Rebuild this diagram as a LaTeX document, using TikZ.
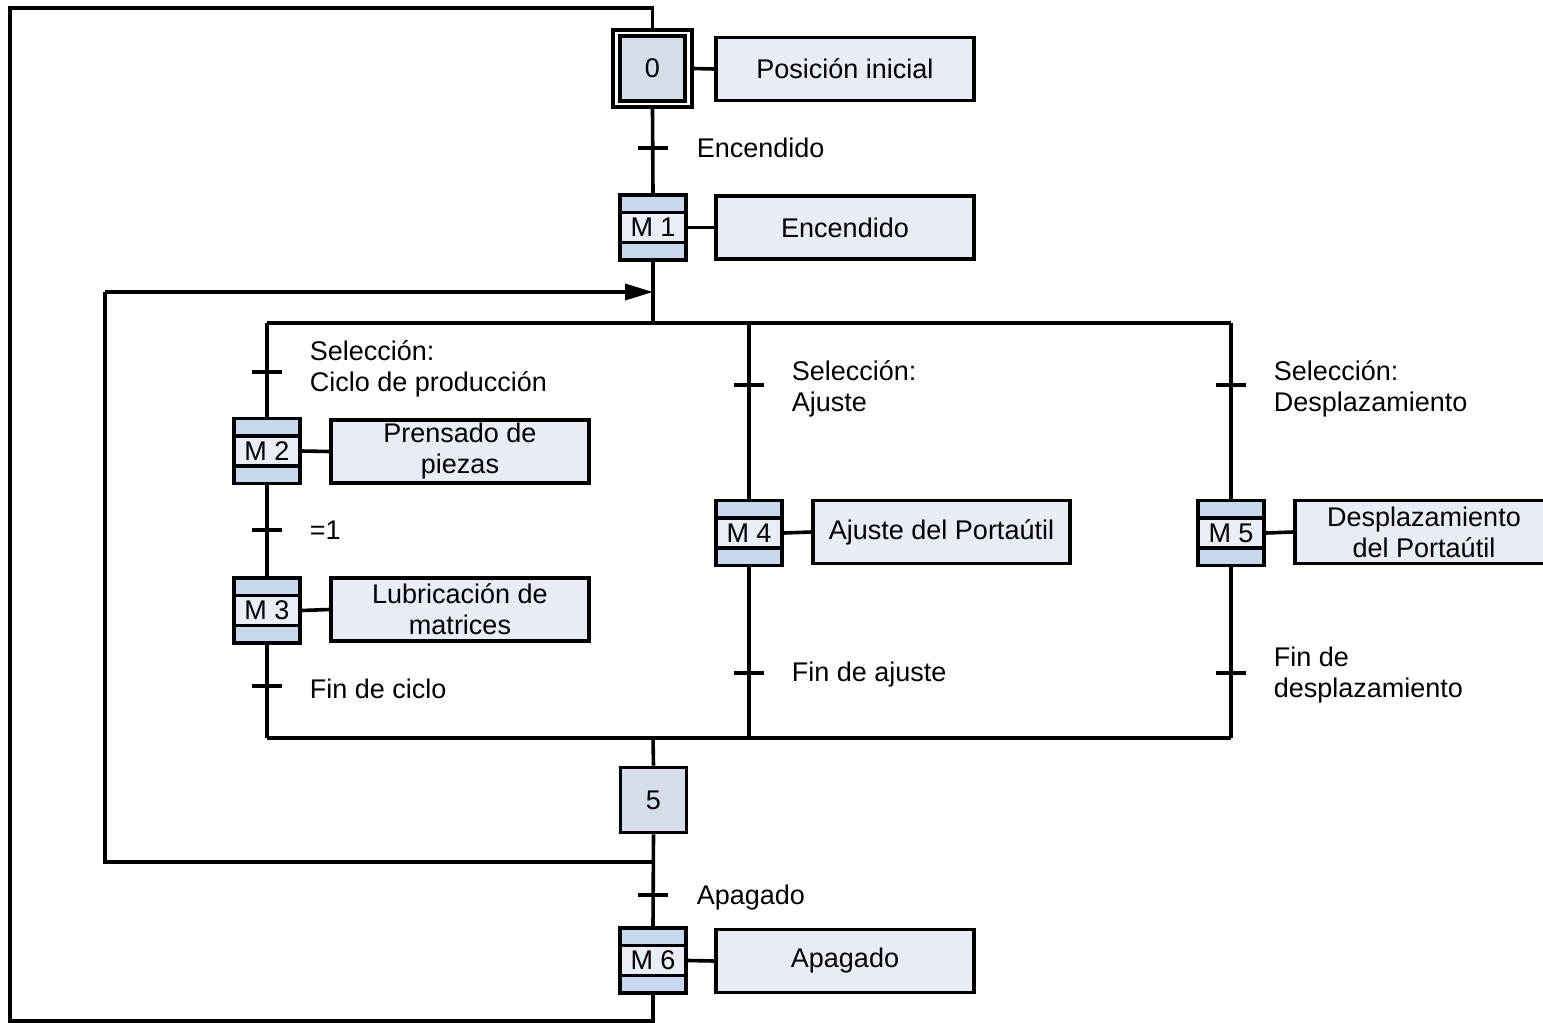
\documentclass[tikz,border=0pt]{standalone}
\usepackage{fontspec}
\setmainfont{Liberation Sans}
\usetikzlibrary{arrows.meta}
\definecolor{stepfill}{HTML}{D4DDE9}
\definecolor{bandfill}{HTML}{C6D7EE}
\definecolor{midfill}{HTML}{E9EEF6}
\definecolor{actfill}{HTML}{E8EDF5}
\begin{document}
\begin{tikzpicture}[x=0.5pt,y=-0.5pt,
  line width=1.8pt,
  every node/.style={font=\fontsize{13.5}{15.5}\selectfont, inner sep=0pt},
  stepbox/.style={draw, fill=stepfill, minimum width=32.5pt, minimum height=32.5pt},
  outerbox/.style={draw, minimum width=39.5pt, minimum height=38.5pt},
  macrobox/.style={draw, fill=bandfill, minimum width=33pt, minimum height=32.5pt,
    path picture={
      \fill[midfill] ([yshift=-7.5pt]path picture bounding box.west) rectangle ([yshift=7.5pt]path picture bounding box.east);
      \draw[line width=1.8pt] ([yshift=-7.5pt]path picture bounding box.west) -- ([yshift=-7.5pt]path picture bounding box.east);
      \draw[line width=1.8pt] ([yshift=7.5pt]path picture bounding box.west) -- ([yshift=7.5pt]path picture bounding box.east);
    }},
  actbox/.style={draw, fill=actfill, minimum width=129pt, minimum height=31.5pt, align=center},
  lbl/.style={anchor=west, align=left},
  tick/.style={line width=1.8pt}
]
\useasboundingbox (0,0) rectangle (1543,1023);

% initial step and actions
\node[outerbox] (s0o) at (652.5,68.5) {};
\node[stepbox] (s0) at (652.5,68.5) {0};
\node[actbox] (a0) at (845,69) {Posición inicial};
\draw (s0o.east) -- (a0.west);

% step M1
\node[macrobox] (m1) at (653,227.5) {M 1};
\node[actbox] (a1) at (845,227.5) {Encendido};
\draw (m1.east) -- (a1.west);

% left branch
\node[macrobox] (m2) at (267,451) {M 2};
\node[actbox] (a2) at (460,451.5) {Prensado de\\piezas};
\draw (m2.east) -- (a2.west);
\node[macrobox] (m3) at (267,610.5) {M 3};
\node[actbox] (a3) at (460,609.5) {Lubricación de\\matrices};
\draw (m3.east) -- (a3.west);

% middle branch
\node[macrobox] (m4) at (749,533) {M 4};
\node[actbox, minimum width=128.5pt] (a4) at (941.5,532) {Ajuste del Portaútil};
\draw (m4.east) -- (a4.west);

% right branch
\node[macrobox] (m5) at (1231,533) {M 5};
\node[actbox] (a5) at (1424,532) {Desplazamiento\\del Portaútil};
\draw (m5.east) -- (a5.west);

% step 5 and M6
\node[stepbox, minimum width=33pt] (s5) at (653.5,800) {5};
\node[macrobox] (m6) at (653,960.5) {M 6};
\node[actbox] (a6) at (845,961) {Apagado};
\draw (m6.east) -- (a6.west);

% coordinates of the flow
\coordinate (t1) at (653,148);
\coordinate (jin) at (653,292);
\coordinate (div) at (653,323);
\coordinate (dl) at (267,323);
\coordinate (dm) at (749,323);
\coordinate (dr) at (1231,323);
\coordinate (cl) at (267,738);
\coordinate (cm) at (749,738);
\coordinate (cr) at (1231,738);
\coordinate (conv) at (653,738);
\coordinate (jout) at (653,862);
\coordinate (lin) at (105,292);
\coordinate (tl1) at (267,372);
\coordinate (tl2) at (267,530);
\coordinate (tl3) at (267,686);
\coordinate (tm1) at (749,385);
\coordinate (tm2) at (749,673);
\coordinate (tr1) at (1231,385);
\coordinate (tr2) at (1231,673);
\coordinate (t6) at (653,895);
\coordinate (lbot) at (10,1021);
\coordinate (ltop) at (10,8);

% main trunk
\draw (s0o.south) -- (m1.north);
\draw (m1.south) -- (div);
\draw (dl) -- (dr);
\draw (dl) -- (m2.north);
\draw (m2.south) -- (m3.north);
\draw (m3.south) -- (cl);
\draw (dm) -- (m4.north);
\draw (m4.south) -- (cm);
\draw (dr) -- (m5.north);
\draw (m5.south) -- (cr);
\draw (cl) -- (cr);
\draw (conv) -- (s5.north);
\draw (s5.south) -- (m6.north);

% loops
\draw (jout) -| (lin);
\draw[-{Triangle[length=14pt,width=8pt]}] (lin) -- (jin);
\draw (m6.south) |- (lbot) -- (ltop) -| (s0o.north);

% transitions
\foreach \t in {t1,tl1,tl2,tl3,tm1,tm2,tr1,tr2,t6}
  \draw[tick] ([xshift=-7.5pt]\t) -- ([xshift=7.5pt]\t);

% transition labels
\node[lbl] (lt1) at (695,148) {Encendido};
\node[lbl] (ltl1) at (308,369) {Selección:\\Ciclo de producción};
\node[lbl] (ltl2) at (308,530) {=1};
\node[lbl] (ltl3) at (308,689) {Fin de ciclo};
\node[lbl] (ltm1) at (790,389) {Selección:\\Ajuste};
\node[lbl] (ltm2) at (790,675) {Fin de ajuste};
\node[lbl] (ltr1) at (1272,389) {Selección:\\Desplazamiento};
\node[lbl] (ltr2) at (1272,675) {Fin de\\desplazamiento};
\node[lbl] (lt6) at (695,898) {Apagado};
\end{tikzpicture}
\end{document}
